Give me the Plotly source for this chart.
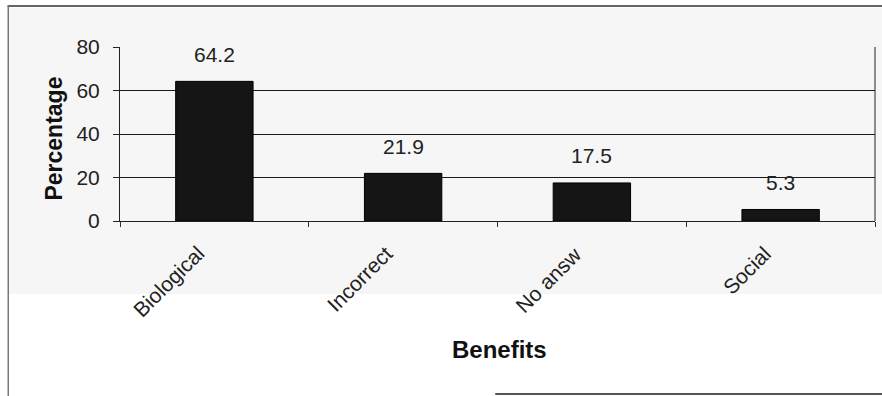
import plotly.graph_objects as go

# Survey responses: perceived benefits
categories = ["Biological", "Incorrect", "No answ", "Social"]
percentages = [64.2, 21.9, 17.5, 5.3]
y_ticks = [0, 20, 40, 60, 80]

FONT = "Arial, Liberation Sans, sans-serif"

fig = go.Figure()
fig.add_trace(go.Bar(
    x=categories,
    y=percentages,
    marker=dict(color="#151515", line=dict(color="#000000", width=1)),
    width=0.41,
    hoverinfo="skip",
))

# value labels above each bar
for cat, val in zip(categories, percentages):
    fig.add_annotation(
        x=cat, y=val, text=f"{val}", showarrow=False,
        yshift=27, font=dict(family=FONT, size=21, color="#222222"),
    )

# slanted category labels under each bar
for cat in categories:
    fig.add_annotation(
        x=cat, y=0, text=cat, showarrow=False, textangle=-45,
        xanchor="right", yanchor="top", xshift=-3, yshift=-18,
        font=dict(family=FONT, size=21, color="#222222"),
    )

# axis titles
fig.add_annotation(
    xref="paper", yref="paper", x=-0.0887, y=0.474, text="<b>Percentage</b>",
    textangle=-90, showarrow=False, xanchor="center", yanchor="middle",
    font=dict(family=FONT, size=23, color="#111111"),
)
fig.add_annotation(
    xref="paper", yref="paper", x=0.502, y=-0.736, text="<b>Benefits</b>",
    showarrow=False, xanchor="center", yanchor="middle",
    font=dict(family=FONT, size=24, color="#111111"),
)

# light chart-area band and frame lines
fig.add_shape(type="rect", xref="paper", yref="paper",
              x0=-0.147, x1=1.01, y0=-0.4195, y1=1.224,
              fillcolor="#f6f6f6", line=dict(width=0), layer="below")
fig.add_shape(type="line", xref="paper", yref="paper",
              x0=-0.149, x1=1.01, y0=1.236, y1=1.236,
              line=dict(color="#333333", width=1.5))
fig.add_shape(type="line", xref="paper", yref="paper",
              x0=-0.148, x1=-0.148, y0=-1.01, y1=1.236,
              line=dict(color="#777777", width=1.5))
fig.add_shape(type="line", xref="paper", yref="paper",
              x0=0.497, x1=1.01, y0=-0.994, y1=-0.994,
              line=dict(color="#555555", width=2))

fig.update_layout(
    width=882, height=396,
    margin=dict(l=120, r=7, t=47, b=175),
    paper_bgcolor="#ffffff",
    plot_bgcolor="#a2a2a2",
    showlegend=False,
    font=dict(family=FONT, color="#111111"),
    xaxis=dict(
        tickson="boundaries", ticks="outside", ticklen=5, tickcolor="#333333",
        showticklabels=False,
        showline=True, linecolor="#222222", linewidth=1,
        showgrid=False,
    ),
    yaxis=dict(
        range=[0, 80], tickvals=y_ticks, ticks="outside", ticklen=6,
        tickcolor="#222222", tickfont=dict(size=21, color="#222222"),
        ticklabelstandoff=9,
        showline=True, linecolor="#222222", linewidth=1,
        showgrid=True, gridcolor="#1a1a1a", gridwidth=1,
        zeroline=False,
    ),
)

# right border of the plot area
fig.add_shape(type="line", xref="paper", yref="paper",
              x0=1, x1=1, y0=0, y1=1, line=dict(color="#222222", width=1))

fig.write_html("out.html")
